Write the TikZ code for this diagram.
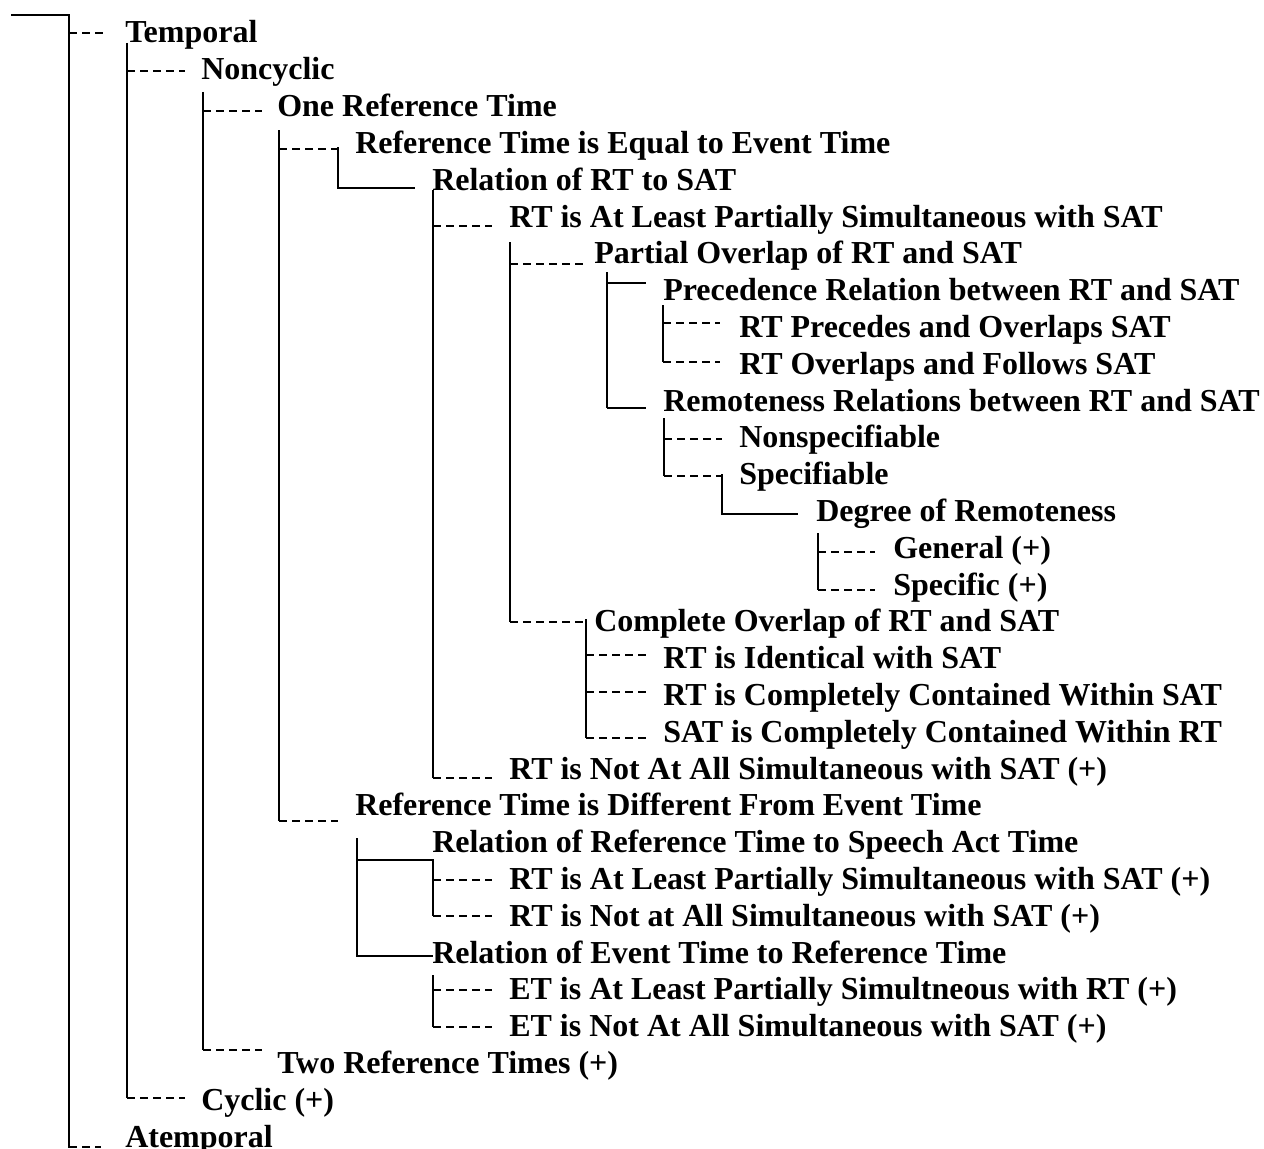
\documentclass[tikz,border=0pt]{standalone}
\usepackage{fontspec}
\setmainfont{Liberation Serif}
\begin{document}
\begin{tikzpicture}[x=0.75pt,y=-0.75pt,
  lbl/.style={anchor=base west,inner sep=0pt,font=\fontsize{24}{28}\selectfont\bfseries},
  tr/.style={line width=1.5pt},
  dl/.style={line width=1.5pt,dash pattern=on 6pt off 3.75pt}]
\useasboundingbox (0,0) rectangle (1264,1149);

% labels, one per line of the outline (baseline 43 + 36.8 i)
\node[lbl] (t0)  at (125,43)     {Temporal};
\node[lbl] (t1)  at (201,79.8)   {Noncyclic};
\node[lbl] (t2)  at (277,116.6)  {One Reference Time};
\node[lbl] (t3)  at (355,153.4)  {Reference Time is Equal to Event Time};
\node[lbl] (t4)  at (432,190.2)  {Relation of RT to SAT};
\node[lbl] (t5)  at (509,227)    {RT is At Least Partially Simultaneous with SAT};
\node[lbl] (t6)  at (594,263.8)  {Partial Overlap of RT and SAT};
\node[lbl] (t7)  at (663,300.6)  {Precedence Relation between RT and SAT};
\node[lbl] (t8)  at (739,337.4)  {RT Precedes and Overlaps SAT};
\node[lbl] (t9)  at (739,374.2)  {RT Overlaps and Follows SAT};
\node[lbl] (t10) at (663,411)    {Remoteness Relations between RT and SAT};
\node[lbl] (t11) at (739,447.8)  {Nonspecifiable};
\node[lbl] (t12) at (739,484.6)  {Specifiable};
\node[lbl] (t13) at (816,521.4)  {Degree of Remoteness};
\node[lbl] (t14) at (893,558.2)  {General (+)};
\node[lbl] (t15) at (893,595)    {Specific (+)};
\node[lbl] (t16) at (594,631.8)  {Complete Overlap of RT and SAT};
\node[lbl] (t17) at (663,668.6)  {RT is Identical with SAT};
\node[lbl] (t18) at (663,705.4)  {RT is Completely Contained Within SAT};
\node[lbl] (t19) at (663,742.2)  {SAT is Completely Contained Within RT};
\node[lbl] (t20) at (509,779)    {RT is Not At All Simultaneous with SAT (+)};
\node[lbl] (t21) at (355,815.8)  {Reference Time is Different From Event Time};
\node[lbl] (t22) at (432,852.6)  {Relation of Reference Time to Speech Act Time};
\node[lbl] (t23) at (509,889.4)  {RT is At Least Partially Simultaneous with SAT (+)};
\node[lbl] (t24) at (509,926.2)  {RT is Not at All Simultaneous with SAT (+)};
\node[lbl] (t25) at (432,963)    {Relation of Event Time to Reference Time};
\node[lbl] (t26) at (509,999.8)  {ET is At Least Partially Simultneous with RT (+)};
\node[lbl] (t27) at (509,1036.6) {ET is Not At All Simultaneous with SAT (+)};
\node[lbl] (t28) at (277,1073.4) {Two Reference Times (+)};
\node[lbl] (t29) at (201,1110.2) {Cyclic (+)};
\node[lbl] (t30) at (125,1147)   {Atemporal};

% root bracket
\draw[tr] (11,15) -- (69,15) -- (69,1148);
\draw[dl] (69,33) -- (106,33);
\draw[dl] (69,1147) -- (101,1147);
% Temporal
\draw[tr] (127,43) -- (127,1098);
\draw[dl] (127,71) -- (185,71);
\draw[dl] (127,1098) -- (185,1098);
% Noncyclic
\draw[tr] (203,92) -- (203,1050);
\draw[dl] (203,111) -- (262,111);
\draw[dl] (203,1050) -- (262,1050);
% One Reference Time
\draw[tr] (279,130) -- (279,821);
\draw[dl] (279,149) -- (338,149);
\draw[tr] (338,147) -- (338,188) -- (415,188);
\draw[dl] (279,821) -- (338,821);
% Relation of RT to SAT
\draw[tr] (433,190) -- (433,778);
\draw[dl] (433,226) -- (492,226);
\draw[dl] (433,778) -- (492,778);
% RT is At Least Partially Simultaneous
\draw[tr] (510,242) -- (510,622);
\draw[dl] (510,264) -- (586,264);
\draw[dl] (510,622) -- (586,622);
% Partial Overlap
\draw[tr] (607,272) -- (607,408);
\draw[tr] (607,283) -- (646,283);
\draw[tr] (607,408) -- (646,408);
% Precedence Relation
\draw[tr] (663,305) -- (663,362);
\draw[dl] (663,323) -- (720,323);
\draw[dl] (663,362) -- (720,362);
% Remoteness Relations
\draw[tr] (664,418) -- (664,476);
\draw[dl] (664,439) -- (722,439);
\draw[dl] (664,476) -- (722,476);
\draw[tr] (722,474) -- (722,514) -- (798,514);
% Degree of Remoteness
\draw[tr] (818,533) -- (818,590);
\draw[dl] (818,552) -- (875,552);
\draw[dl] (818,590) -- (875,590);
% Complete Overlap
\draw[tr] (586,619) -- (586,738);
\draw[dl] (586,655) -- (646,655);
\draw[dl] (586,692) -- (646,692);
\draw[dl] (586,738) -- (646,738);
% Reference Time is Different
\draw[tr] (357,838) -- (357,956) -- (433,956);
\draw[tr] (357,860) -- (433,860) -- (433,916);
\draw[dl] (433,880) -- (492,880);
\draw[dl] (433,916) -- (492,916);
\draw[tr] (433,975) -- (433,1027);
\draw[dl] (433,990) -- (492,990);
\draw[dl] (433,1027) -- (492,1027);
\end{tikzpicture}
\end{document}
